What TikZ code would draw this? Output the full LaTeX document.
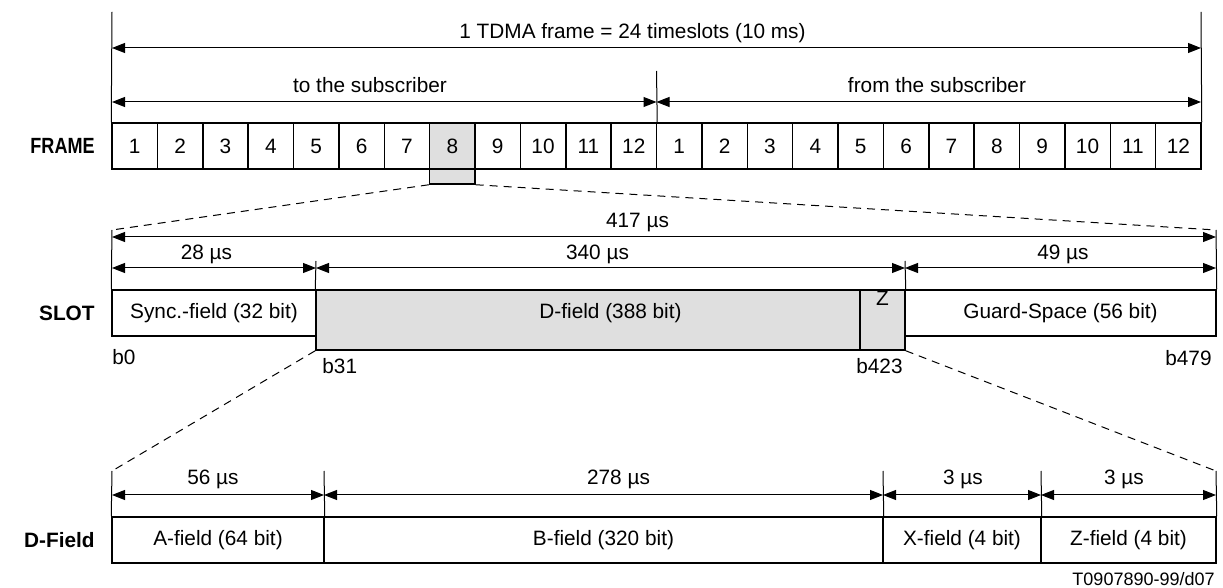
\documentclass[tikz,border=0pt]{standalone}
\usepackage{graphicx}
\usepackage{fontspec}
\setmainfont{Liberation Sans}
\usetikzlibrary{arrows.meta}

\definecolor{fieldgray}{HTML}{DFDFDF}

\tikzset{
  dim/.style={line width=0.5pt, {Triangle[length=6.5pt,width=5pt]}-{Triangle[length=6.5pt,width=5pt]}},
  ext/.style={line width=0.5pt},
  field/.style={draw, line width=0.75pt, inner sep=0pt, minimum height=23pt},
  cellbox/.style={field, minimum width=22.6875pt},
  zoomline/.style={line width=0.5pt, dash pattern=on 4pt off 3pt},
  rowlabel/.style={anchor=east, inner sep=0pt, font=\fontsize{10.4}{12}\selectfont\bfseries},
  dimlabel/.style={anchor=base, inner sep=0pt},
}

\begin{document}
\begin{tikzpicture}[x=0.5pt, y=-0.5pt, font=\fontsize{10.4}{12}\selectfont]
  \useasboundingbox (0,0) rectangle (1223,588);

  % frame row
  \node[field, fill=fieldgray, minimum width=22.6875pt, minimum height=30.5pt] (tab) at (452.3,153.5) {};
  \foreach \i in {1,...,24} {
    \pgfmathtruncatemacro{\n}{mod(\i-1,12)+1}
    \node[cellbox] (c\i) at ({112+(\i-0.5)*45.375},146) {\n};
  }
  \node[rowlabel, font=\fontsize{11}{13}\selectfont\bfseries] (framelbl) at (95,146) {\scalebox{0.82}[1]{FRAME}};

  % frame dimensions
  \coordinate (ftl) at (112,12);
  \coordinate (ftr) at (1201,12);
  \coordinate (fmid) at (656.5,71);
  \draw[ext] (ftl) -- (c1.north west);
  \draw[ext] (ftr) -- (c24.north east);
  \draw[ext] (fmid) -- (c12.north east);
  \coordinate (fa1) at (112,48);
  \coordinate (fa2) at (1201,48);
  \coordinate (fb1) at (112,102);
  \coordinate (fb2) at (656.5,102);
  \coordinate (fb3) at (1201,102);
  \draw[dim] (fa1) -- (fa2);
  \draw[dim] (fb1) -- (fb2);
  \draw[dim] (fb2) -- (fb3);
  \node[dimlabel] (tdma) at (632.5,39) {1 TDMA frame = 24 timeslots (10 ms)};
  \node[dimlabel] (tosub) at (370,93) {to the subscriber};
  \node[dimlabel] (fromsub) at (937,93) {from the subscriber};

  % slot row
  \node[field, minimum width=102pt] (sync) at (214,313) {Sync.-field (32 bit)};
  \node[field, fill=fieldgray, minimum width=294.5pt, minimum height=30pt] (dfield) at (610.5,320) {};
  \node[field, minimum width=22.5pt, minimum height=30pt] (zcell) at (882.5,320) {};
  \node[field, minimum width=155.5pt] (guard) at (1060.5,313) {Guard-Space (56 bit)};
  \node (dtext) at (610.5,313) {D-field (388 bit)};
  \node (ztext) at (882.5,298) {Z};
  \node[rowlabel] (slotlbl) at (95,313) {SLOT};
  \node[anchor=west, inner sep=0pt] (b0) at (112,357) {b0};
  \node[anchor=west, inner sep=0pt] (b31) at (322,366) {b31};
  \node[anchor=east, inner sep=0pt] (b423) at (903,366) {b423};
  \node[anchor=east, inner sep=0pt] (b479) at (1212,358) {b479};

  % zoom from timeslot 8
  \coordinate (slt) at (112,230);
  \coordinate (srt) at (1216,230);
  \draw[zoomline] (tab.south west) -- (slt);
  \draw[zoomline] (tab.south east) -- (srt);

  % slot dimensions
  \coordinate (st1) at (316,261);
  \coordinate (st2) at (905,261);
  \draw[ext] (slt) -- (sync.north west);
  \draw[ext] (srt) -- (guard.north east);
  \draw[ext] (st1) -- (dfield.north west);
  \draw[ext] (st2) -- (dfield.north east);
  \coordinate (sa1) at (112,237);
  \coordinate (sa2) at (1216,237);
  \coordinate (sb1) at (112,268);
  \coordinate (sb2) at (316,268);
  \coordinate (sb3) at (905,268);
  \coordinate (sb4) at (1216,268);
  \draw[dim] (sa1) -- (sa2);
  \draw[dim] (sb1) -- (sb2);
  \draw[dim] (sb2) -- (sb3);
  \draw[dim] (sb3) -- (sb4);
  \node[dimlabel] (t417) at (637.5,228) {417 µs};
  \node[dimlabel] (t28) at (206.5,260) {28 µs};
  \node[dimlabel] (t340) at (597.5,260) {340 µs};
  \node[dimlabel] (t49) at (1063,260) {49 µs};

  % d-field row
  \node[field, minimum width=106pt] (afield) at (218,540) {A-field (64 bit)};
  \node[field, minimum width=279.5pt] (bfield) at (603.5,540) {B-field (320 bit)};
  \node[field, minimum width=79pt] (xfield) at (962,540) {X-field (4 bit)};
  \node[field, minimum width=87.5pt] (zfield) at (1128.5,540) {Z-field (4 bit)};
  \node[rowlabel] (dlbl) at (95,540) {D-Field};

  % zoom from d-field
  \coordinate (dlt) at (112,471);
  \coordinate (drt) at (1216,471);
  \draw[zoomline] (dfield.south west) -- (dlt);
  \draw[zoomline] (dfield.south east) -- (drt);

  % d-field dimensions
  \coordinate (dt1) at (324,471);
  \coordinate (dt2) at (883,471);
  \coordinate (dt3) at (1041,471);
  \draw[ext] (dlt) -- (afield.north west);
  \draw[ext] (dt1) -- (afield.north east);
  \draw[ext] (dt2) -- (bfield.north east);
  \draw[ext] (dt3) -- (xfield.north east);
  \draw[ext] (drt) -- (zfield.north east);
  \coordinate (da1) at (112,495);
  \coordinate (da2) at (324,495);
  \coordinate (da3) at (883,495);
  \coordinate (da4) at (1041,495);
  \coordinate (da5) at (1216,495);
  \draw[dim] (da1) -- (da2);
  \draw[dim] (da2) -- (da3);
  \draw[dim] (da3) -- (da4);
  \draw[dim] (da4) -- (da5);
  \node[dimlabel] (t56) at (213,485) {56 µs};
  \node[dimlabel] (t278) at (618.5,485) {278 µs};
  \node[dimlabel] (t3x) at (963,485) {3 µs};
  \node[dimlabel] (t3z) at (1124,485) {3 µs};

  % figure number
  \node[anchor=east, inner sep=0pt, font=\fontsize{9}{10}\selectfont] (figref) at (1215,579) {T0907890-99/d07};
\end{tikzpicture}
\end{document}
